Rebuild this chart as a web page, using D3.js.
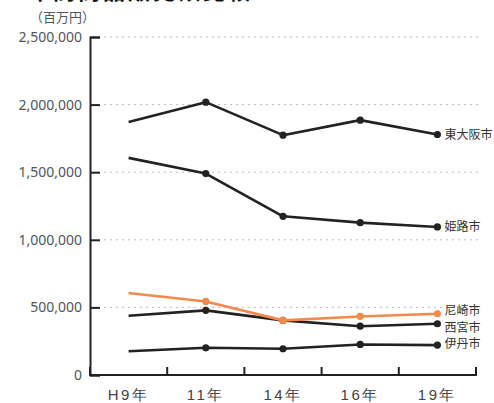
<!DOCTYPE html>
<html><head><meta charset="utf-8">
<script src="https://cdn.jsdelivr.net/npm/d3@7"></script>
<style>
html,body{margin:0;padding:0;background:#fff;}
svg{display:block;font-family:"Noto Sans CJK JP","Noto Sans",sans-serif;}
</style></head>
<body>
<svg id="c" width="494" height="403"></svg>
<script>
const categories = ["H9年","11年","14年","16年","19年"];
const yTicks = [0,500000,1000000,1500000,2000000,2500000];
const higashiosaka = [1872000,2018000,1774000,1885000,1779000];
const himeji       = [1606000,1490000,1174000,1127000,1095000];
const amagasaki    = [606000,544000,404000,433000,453000];
const nishinomiya  = [438000,478000,404000,361000,379000];
const itami        = [176000,201000,194000,226000,221000];
const seriesNames  = ["東大阪市","姫路市","尼崎市","西宮市","伊丹市"];

const series = [
  {name:seriesNames[0], values:higashiosaka, color:"#222", dy:0},
  {name:seriesNames[1], values:himeji, color:"#222", dy:0},
  {name:seriesNames[3], values:nishinomiya, color:"#222", dy:4.5},
  {name:seriesNames[4], values:itami, color:"#222", dy:-1},
  {name:seriesNames[2], values:amagasaki, color:"#f28a4c", dy:-2.5}
];

const svg = d3.select("#c");
const x = d3.scaleBand().domain(categories).range([90,476]);
const y = d3.scaleLinear().domain([0,2500000]).range([375,37]);

// title (clipped at top)
svg.append("text").attr("x",28).attr("y",-1.5).attr("font-size",22).attr("font-weight","bold")
  .attr("letter-spacing",3).attr("fill","#111").text("年間商品販売額比較");
svg.append("text").attr("x",30).attr("y",22).attr("font-size",13).attr("fill","#555").text("（百万円）");

// grid
svg.append("g").selectAll("line").data(yTicks.filter(d=>d>0)).join("line")
  .attr("x1",104).attr("x2",478).attr("y1",d=>y(d)).attr("y2",d=>y(d))
  .attr("stroke","#bbb").attr("stroke-width",1).attr("stroke-dasharray","2,4");

// y axis
const ya = svg.append("g").attr("transform","translate(90,0)")
  .call(d3.axisLeft(y).tickValues(yTicks).tickSize(-10).tickPadding(8)
    .tickFormat(d=>d3.format(",")(d)));
ya.select(".domain").attr("stroke","#222").attr("stroke-width",2);
ya.selectAll(".tick line").attr("stroke","#222").attr("stroke-width",2);
ya.selectAll(".tick text").attr("font-size",14).attr("fill","#555")
  .attr("font-family","'Noto Sans','Noto Sans CJK JP',sans-serif");

// x axis
const xa = svg.append("g").attr("transform","translate(0,375)")
  .call(d3.axisBottom(x).tickSize(0).tickPadding(14.5));
xa.select(".domain").remove();
xa.selectAll(".tick text").attr("font-size",15).attr("fill","#444").attr("letter-spacing",2.5);
const bounds = categories.map(c=>x(c)).concat([x.range()[1]]);
svg.append("g").selectAll("line").data(bounds).join("line")
  .attr("x1",d=>d).attr("x2",d=>d).attr("y1",375).attr("y2",367)
  .attr("stroke","#222").attr("stroke-width",2);
svg.append("line").attr("x1",89).attr("x2",477).attr("y1",375).attr("y2",375)
  .attr("stroke","#222").attr("stroke-width",2);

// lines
const line = d3.line().x((d,i)=>x(categories[i])+x.bandwidth()/2).y(d=>y(d));
series.forEach(s=>{
  const g = svg.append("g");
  g.append("path").datum(s.values).attr("d",line).attr("fill","none")
    .attr("stroke",s.color).attr("stroke-width",2.6).attr("stroke-linejoin","round");
  g.selectAll("circle").data(s.values.slice(1)).join("circle")
    .attr("cx",(d,i)=>x(categories[i+1])+x.bandwidth()/2).attr("cy",d=>y(d))
    .attr("r",3.6).attr("fill",s.color);
  const last = s.values[s.values.length-1];
  g.append("text").attr("x",x(categories[categories.length-1])+x.bandwidth()/2+7)
    .attr("y",y(last)+s.dy).attr("dy","0.35em").attr("font-size",12).attr("fill","#333")
    .text(s.name);
});
</script>
</body></html>
